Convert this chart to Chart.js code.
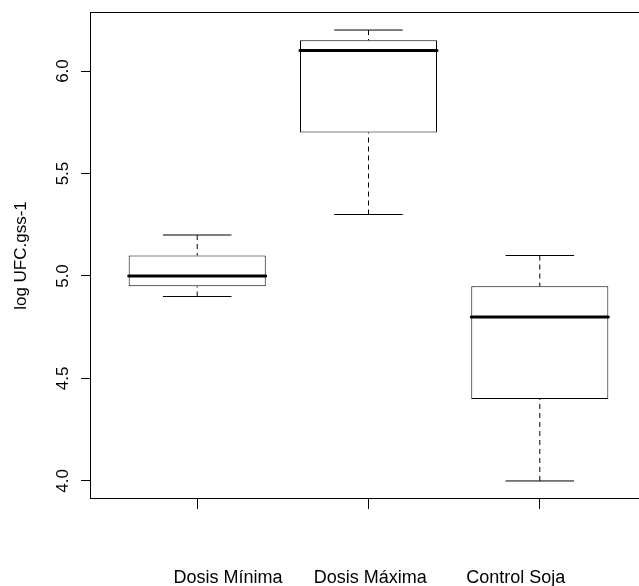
<!DOCTYPE html>
<html>
<head>
<meta charset="utf-8">
<script src="https://cdn.jsdelivr.net/npm/chart.js@4"></script>
<style>
  html, body { margin: 0; padding: 0; background: #fff; }
  #frame { width: 639px; height: 586px; overflow: hidden; }
  #wrap { width: 662px; height: 586px; }
</style>
</head>
<body>
<div id="frame"><div id="wrap"><canvas id="chartBox"></canvas></div></div>
<script>
const categories = ['Dosis Mínima', 'Dosis Máxima', 'Control Soja'];
const positions = [1, 2, 3];
const labelPositions = [1.18, 2.01, 2.86];
const lowWhisker = [4.9, 5.3, 4.0];
const lowerQuartile = [4.95, 5.7, 4.4];
const medians = [5.0, 6.1, 4.8];
const upperQuartile = [5.1, 6.15, 4.95];
const highWhisker = [5.2, 6.2, 5.1];
const yTicks = [4.0, 4.5, 5.0, 5.5, 6.0];

const boxHalf = 0.4;
const capHalf = 0.2;
const FONT = 'Liberation Sans, Arial, Helvetica, sans-serif';

Chart.defaults.font.family = FONT;
Chart.defaults.color = '#000';

// turn [[p1, p2], ...] into one line dataset with gaps between the pieces
function segments(pairs) {
    const out = [];
    pairs.forEach(function (pair) {
        out.push(pair[0], pair[1], { x: pair[1].x, y: null });
    });
    return out;
}

const medianLines = segments(positions.map(function (p, i) {
    return [{ x: p - boxHalf, y: medians[i] }, { x: p + boxHalf, y: medians[i] }];
}));

const whiskerLines = segments(positions.flatMap(function (p, i) {
    return [
        [{ x: p, y: lowWhisker[i] }, { x: p, y: lowerQuartile[i] }],
        [{ x: p, y: highWhisker[i] }, { x: p, y: upperQuartile[i] }],
    ];
}));

const capLines = segments(positions.flatMap(function (p, i) {
    return [
        [{ x: p - capHalf, y: lowWhisker[i] }, { x: p + capHalf, y: lowWhisker[i] }],
        [{ x: p - capHalf, y: highWhisker[i] }, { x: p + capHalf, y: highWhisker[i] }],
    ];
}));

const framePlugin = {
    id: 'frame',
    afterDatasetsDraw(chart) {
        const a = chart.chartArea;
        const ctx = chart.ctx;
        ctx.save();
        ctx.strokeStyle = '#000';
        ctx.lineWidth = 1;
        const l = Math.round(a.left) - 0.5;
        const t = Math.round(a.top) + 0.5;
        const r = Math.round(a.right) - 0.5;
        const b = Math.round(a.bottom) - 0.5;
        ctx.strokeRect(l, t, r - l, b - t);
        ctx.restore();
    },
};

function lineSet(data, width, dash) {
    return {
        type: 'line',
        data,
        borderColor: '#000',
        borderWidth: width,
        borderDash: dash,
        borderCapStyle: width > 1 ? 'round' : 'butt',
        pointRadius: 0,
        spanGaps: false,
        fill: false,
        order: 1,
    };
}

new Chart(document.getElementById('chartBox'), {
    type: 'line',
    data: {
        datasets: [
            {
                type: 'bar',
                data: positions.map(function (p, i) {
                    return { x: p, y: [lowerQuartile[i], upperQuartile[i]] };
                }),
                backgroundColor: '#fff',
                borderColor: '#000',
                borderWidth: 1,
                borderSkipped: false,
                barPercentage: 0.8,
                categoryPercentage: 1,
                order: 2,
            },
            lineSet(whiskerLines, 1, [5, 4]),
            lineSet(capLines, 1, []),
            lineSet(medianLines, 3, []),
        ],
    },
    options: {
        responsive: true,
        maintainAspectRatio: false,
        animation: false,
        layout: { padding: { top: 12, right: 16, bottom: 0, left: 0 } },
        plugins: { legend: { display: false }, tooltip: { enabled: false } },
        scales: {
            x: {
                type: 'linear',
                position: 'bottom',
                weight: 0,
                min: 0.38,
                max: 3.62,
                offset: false,
                afterBuildTicks(s) { s.ticks = positions.map(function (v) { return { value: v }; }); },
                afterFit(s) { s.height = 10; s.paddingLeft = 0; s.paddingRight = 0; },
                ticks: { display: false },
                grid: { offset: false, drawOnChartArea: false, drawTicks: true, tickLength: 10, color: '#000', lineWidth: 1 },
                border: { display: false },
            },
            x2: {
                type: 'linear',
                axis: 'x',
                position: 'bottom',
                weight: 1,
                min: 0.38,
                max: 3.62,
                offset: false,
                afterBuildTicks(s) { s.ticks = labelPositions.map(function (v) { return { value: v }; }); },
                afterFit(s) { s.height = 77; s.paddingLeft = 0; s.paddingRight = 0; },
                ticks: {
                    autoSkip: false,
                    maxRotation: 0,
                    minRotation: 0,
                    padding: 58,
                    font: { size: 18 },
                    callback: function (v, i) { return categories[i]; },
                },
                grid: { display: false, drawTicks: false },
                border: { display: false },
            },
            y: {
                type: 'linear',
                position: 'left',
                min: 3.912,
                max: 6.288,
                afterBuildTicks(s) { s.ticks = yTicks.map(function (v) { return { value: v }; }); },
                afterFit(s) { s.width = 91; s.paddingTop = 0; s.paddingBottom = 0; },
                ticks: {
                    minRotation: 90,
                    maxRotation: 90,
                    crossAlign: 'center',
                    padding: 6,
                    font: { size: 17 },
                    callback: function (v) { return Number(v).toFixed(1); },
                },
                grid: { drawOnChartArea: false, drawTicks: true, tickLength: 10, color: '#000', lineWidth: 1 },
                border: { display: false },
                title: {
                    display: true,
                    text: 'log UFC.gss-1',
                    font: { size: 17 },
                    padding: { top: 11, bottom: 0 },
                },
            },
        },
    },
    plugins: [framePlugin],
});
</script>
</body>
</html>
